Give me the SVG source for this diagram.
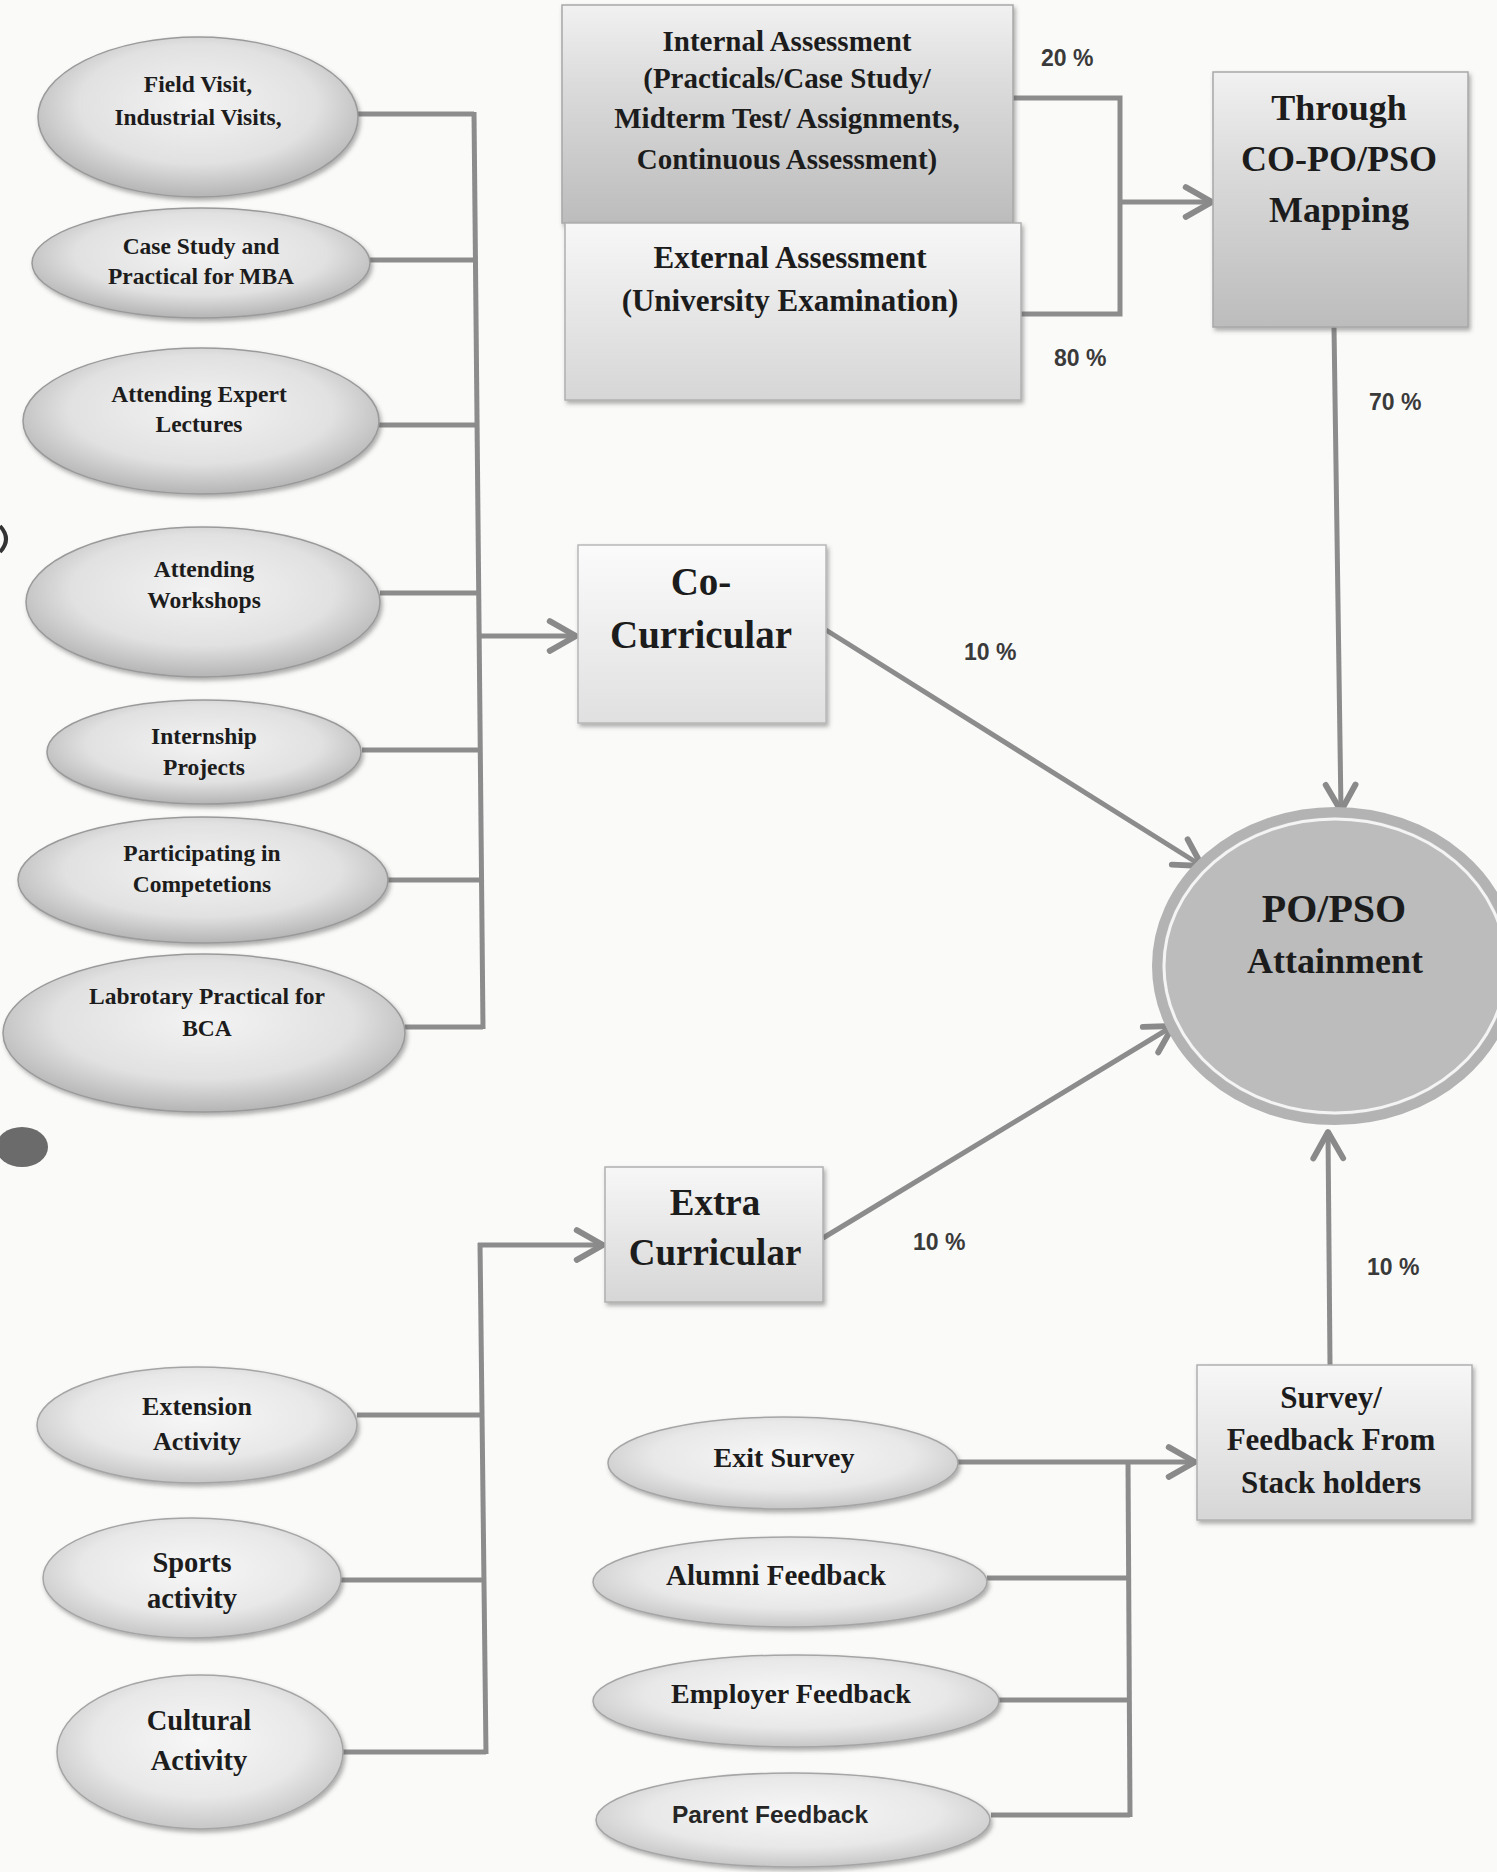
<svg xmlns="http://www.w3.org/2000/svg" width="1497" height="1872" viewBox="0 0 1497 1872">
<defs>
  <radialGradient id="gEll" cx="50%" cy="42%" r="62%">
    <stop offset="0" stop-color="#f3f3f3"/>
    <stop offset="0.6" stop-color="#e1e1e1"/>
    <stop offset="1" stop-color="#acacac"/>
  </radialGradient>
  <radialGradient id="gEll2" cx="50%" cy="42%" r="62%">
    <stop offset="0" stop-color="#f7f7f7"/>
    <stop offset="0.6" stop-color="#e8e8e8"/>
    <stop offset="1" stop-color="#c0c0c0"/>
  </radialGradient>
  <linearGradient id="gDark" x1="0" y1="0" x2="0" y2="1">
    <stop offset="0" stop-color="#f1f1f1"/>
    <stop offset="0.35" stop-color="#dcdcdc"/>
    <stop offset="1" stop-color="#bcbcbc"/>
  </linearGradient>
  <linearGradient id="gLight" x1="0" y1="0" x2="0" y2="1">
    <stop offset="0" stop-color="#f7f7f7"/>
    <stop offset="1" stop-color="#d6d6d6"/>
  </linearGradient>
  <linearGradient id="gPale" x1="0" y1="0" x2="0" y2="1">
    <stop offset="0" stop-color="#fbfbfb"/>
    <stop offset="1" stop-color="#e0e0e0"/>
  </linearGradient>
  <filter id="sh" x="-10%" y="-10%" width="125%" height="135%">
    <feDropShadow dx="2" dy="3" stdDeviation="2" flood-color="#4d4d4d" flood-opacity="0.45"/>
  </filter>
  <marker id="arr" viewBox="0 0 24 24" refX="21" refY="12" markerWidth="42" markerHeight="42" markerUnits="userSpaceOnUse" orient="auto">
    <path d="M6,3.5 L21,12 L6,20.5" fill="none" stroke="#8a8a8a" stroke-width="3.4" stroke-linecap="round" stroke-linejoin="round"/>
  </marker>
</defs>
<style>
  .bg{fill:#fafaf9}
  .lbl{font-family:"Liberation Serif","Times New Roman",serif;font-weight:bold;fill:#1c1c1c;text-anchor:middle}
  .sans{font-family:"Liberation Sans",Arial,sans-serif;font-weight:bold;fill:#262626;text-anchor:middle}
  .pct{font-family:"Liberation Sans",Arial,sans-serif;font-weight:bold;font-size:23px;fill:#3a3a3a}
  .conn{fill:none;stroke:#8c8c8c;stroke-width:5}
  .arrow{marker-end:url(#arr)}
  .ell{fill:url(#gEll);stroke:#9a9a9a;stroke-width:1.5;filter:url(#sh)}
  .ell2{fill:url(#gEll2);stroke:#a5a5a5;stroke-width:1.5;filter:url(#sh)}
  .boxD{fill:url(#gDark);stroke:#a8a8a8;stroke-width:1.5;filter:url(#sh)}
  .boxL{fill:url(#gLight);stroke:#b0b0b0;stroke-width:1.5;filter:url(#sh)}
  .boxP{fill:url(#gPale);stroke:#b8b8b8;stroke-width:1.5;filter:url(#sh)}
  .s23{font-size:23.5px}
</style>
<rect class="bg" x="0" y="0" width="1497" height="1872"/>

<!-- scan artifacts -->
<ellipse cx="22" cy="1147" rx="26" ry="20" fill="#6b6b6b"/>
<path d="M0,526 Q12,539 0,552" fill="none" stroke="#333" stroke-width="4"/>

<g id="connectors">
  <!-- top-left bus -->
  <line class="conn" x1="358" y1="114" x2="474" y2="114"/>
  <line class="conn" x1="370" y1="260" x2="475" y2="260"/>
  <line class="conn" x1="379" y1="425" x2="476" y2="425"/>
  <line class="conn" x1="380" y1="593" x2="478" y2="593"/>
  <line class="conn" x1="362" y1="750" x2="480" y2="750"/>
  <line class="conn" x1="388" y1="880" x2="481" y2="880"/>
  <line class="conn" x1="405" y1="1027" x2="483" y2="1027"/>
  <line class="conn" x1="474" y1="112" x2="483" y2="1029"/>
  <line class="conn arrow" x1="479" y1="636" x2="576" y2="636"/>
  <!-- bottom-left bus -->
  <line class="conn" x1="357" y1="1415" x2="483" y2="1415"/>
  <line class="conn" x1="341" y1="1580" x2="485" y2="1580"/>
  <line class="conn" x1="343" y1="1752" x2="486" y2="1752"/>
  <line class="conn" x1="480" y1="1243" x2="486" y2="1754"/>
  <line class="conn arrow" x1="478" y1="1245" x2="603" y2="1245"/>
  <!-- assessment bracket -->
  <polyline class="conn" points="1013,98 1120,98 1120,314 1021,314"/>
  <line class="conn arrow" x1="1120" y1="202" x2="1212" y2="202"/>
  <!-- into PO/PSO -->
  <line class="conn arrow" x1="1334" y1="327" x2="1341" y2="811"/>
  <line class="conn arrow" x1="826" y1="630" x2="1202" y2="866"/>
  <line class="conn arrow" x1="823" y1="1238" x2="1173" y2="1026"/>
  <line class="conn arrow" x1="1330" y1="1365" x2="1328" y2="1132"/>
  <!-- feedback bus -->
  <line class="conn arrow" x1="957" y1="1462" x2="1195" y2="1462"/>
  <line class="conn" x1="987" y1="1578" x2="1129" y2="1578"/>
  <line class="conn" x1="999" y1="1700" x2="1129" y2="1700"/>
  <line class="conn" x1="991" y1="1815" x2="1130" y2="1815"/>
  <line class="conn" x1="1128" y1="1460" x2="1130" y2="1817"/>
</g>

<g id="n-field-visit">
  <ellipse class="ell" cx="198" cy="117" rx="160" ry="80"/>
  <text class="lbl s23" x="198" y="92">Field Visit,</text>
  <text class="lbl s23" x="198" y="125">Industrial Visits,</text>
</g>
<g id="n-case-study">
  <ellipse class="ell" cx="201" cy="263" rx="169" ry="55"/>
  <text class="lbl s23" x="201" y="254">Case Study and</text>
  <text class="lbl s23" x="201" y="284">Practical for MBA</text>
</g>
<g id="n-expert-lectures">
  <ellipse class="ell" cx="201" cy="421" rx="178" ry="73"/>
  <text class="lbl s23" x="199" y="402">Attending Expert</text>
  <text class="lbl s23" x="199" y="432">Lectures</text>
</g>
<g id="n-workshops">
  <ellipse class="ell" cx="203" cy="602" rx="177" ry="75"/>
  <text class="lbl s23" x="204" y="577">Attending</text>
  <text class="lbl s23" x="204" y="608">Workshops</text>
</g>
<g id="n-internship">
  <ellipse class="ell" cx="204" cy="752" rx="157" ry="52"/>
  <text class="lbl s23" x="204" y="744">Internship</text>
  <text class="lbl s23" x="204" y="775">Projects</text>
</g>
<g id="n-competitions">
  <ellipse class="ell" cx="203" cy="880" rx="185" ry="63"/>
  <text class="lbl s23" x="202" y="861">Participating in</text>
  <text class="lbl s23" x="202" y="892">Competetions</text>
</g>
<g id="n-lab-practical">
  <ellipse class="ell" cx="204" cy="1033" rx="201" ry="79"/>
  <text class="lbl s23" x="207" y="1004">Labrotary Practical for</text>
  <text class="lbl s23" x="207" y="1036">BCA</text>
</g>

<g id="n-internal">
  <rect class="boxD" x="562" y="5" width="451" height="218"/>
  <text class="lbl" font-size="29" x="787" y="51">Internal Assessment</text>
  <text class="lbl" font-size="29" x="787" y="88">(Practicals/Case Study/</text>
  <text class="lbl" font-size="29" x="787" y="128">Midterm Test/ Assignments,</text>
  <text class="lbl" font-size="29" x="787" y="169">Continuous Assessment)</text>
</g>
<g id="n-external">
  <rect class="boxL" x="565" y="223" width="456" height="177"/>
  <text class="lbl" font-size="31" x="790" y="268">External Assessment</text>
  <text class="lbl" font-size="31" x="790" y="311">(University Examination)</text>
</g>
<g id="n-mapping">
  <rect class="boxD" x="1213" y="72" width="255" height="255"/>
  <text class="lbl" font-size="36" x="1339" y="120">Through</text>
  <text class="lbl" font-size="36" x="1339" y="171">CO-PO/PSO</text>
  <text class="lbl" font-size="36" x="1339" y="222">Mapping</text>
</g>
<g id="n-co-curricular">
  <rect class="boxP" x="578" y="545" width="248" height="178"/>
  <text class="lbl" font-size="39" x="701" y="595">Co-</text>
  <text class="lbl" font-size="39" x="701" y="648">Curricular</text>
</g>
<g id="n-extra-curricular">
  <rect class="boxL" x="605" y="1167" width="218" height="135"/>
  <text class="lbl" font-size="37" x="715" y="1215">Extra</text>
  <text class="lbl" font-size="37" x="715" y="1265">Curricular</text>
</g>
<g id="n-attainment">
  <ellipse cx="1335" cy="966" rx="178" ry="154" fill="#bcbcbc" stroke="#b3b3b3" stroke-width="10"/>
  <ellipse cx="1335" cy="966" rx="171" ry="147" fill="none" stroke="#f4f4f4" stroke-width="3"/>
  <text class="lbl" font-size="40" x="1334" y="922">PO/PSO</text>
  <text class="lbl" font-size="36" x="1335" y="973">Attainment</text>
</g>
<g id="n-survey">
  <rect class="boxL" x="1197" y="1365" width="275" height="155"/>
  <text class="lbl" font-size="31" x="1331" y="1408">Survey/</text>
  <text class="lbl" font-size="31" x="1331" y="1450">Feedback From</text>
  <text class="lbl" font-size="31" x="1331" y="1493">Stack holders</text>
</g>

<g id="n-extension">
  <ellipse class="ell2" cx="197" cy="1425" rx="160" ry="58"/>
  <text class="lbl" font-size="26" x="197" y="1415">Extension</text>
  <text class="lbl" font-size="26" x="197" y="1450">Activity</text>
</g>
<g id="n-sports">
  <ellipse class="ell2" cx="192" cy="1578" rx="149" ry="60"/>
  <text class="lbl" font-size="28.5" x="192" y="1572">Sports</text>
  <text class="lbl" font-size="28.5" x="192" y="1608">activity</text>
</g>
<g id="n-cultural">
  <ellipse class="ell2" cx="200" cy="1752" rx="143" ry="77"/>
  <text class="lbl" font-size="28.5" x="199" y="1730">Cultural</text>
  <text class="lbl" font-size="28.5" x="199" y="1770">Activity</text>
</g>

<g id="n-exit-survey">
  <ellipse class="ell2" cx="783" cy="1463" rx="175" ry="46"/>
  <text class="lbl" font-size="28" x="784" y="1467">Exit Survey</text>
</g>
<g id="n-alumni">
  <ellipse class="ell2" cx="790" cy="1582" rx="197" ry="45"/>
  <text class="lbl" font-size="29" x="776" y="1585">Alumni Feedback</text>
</g>
<g id="n-employer">
  <ellipse class="ell2" cx="796" cy="1701" rx="203" ry="46"/>
  <text class="lbl" font-size="28" x="791" y="1703">Employer Feedback</text>
</g>
<g id="n-parent">
  <ellipse class="ell2" cx="793" cy="1820" rx="197" ry="47"/>
  <text class="sans" font-size="24.5" x="770" y="1823">Parent Feedback</text>
</g>

<g id="labels">
  <text class="pct" x="1041" y="66">20 %</text>
  <text class="pct" x="1054" y="366">80 %</text>
  <text class="pct" x="1369" y="410">70 %</text>
  <text class="pct" x="964" y="660">10 %</text>
  <text class="pct" x="913" y="1250">10 %</text>
  <text class="pct" x="1367" y="1275">10 %</text>
</g>
</svg>
